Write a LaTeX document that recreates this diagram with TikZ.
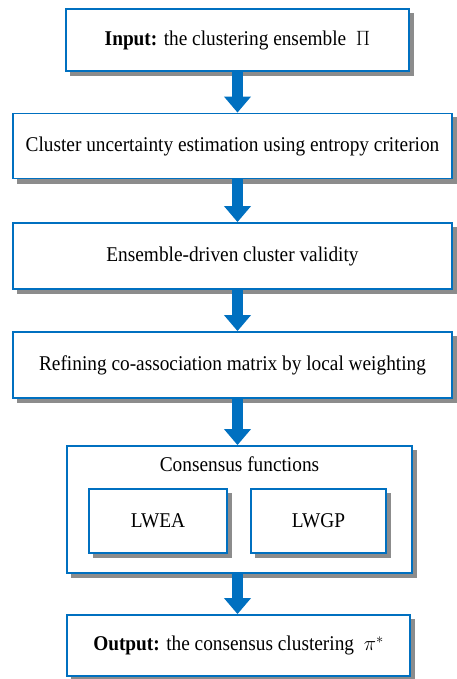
\documentclass[tikz,border=0pt]{standalone}
\usepackage{fontspec}
\setmainfont{Liberation Serif}[FakeStretch=0.92]
\usepackage{tikz}
\usetikzlibrary{arrows.meta}

\definecolor{flowblue}{RGB}{0,112,192}
\pgfdeclarelayer{shadowback}
\pgfdeclarelayer{frame}
\pgfdeclarelayer{shadowfront}
\pgfsetlayers{shadowback,frame,shadowfront,main}

\begin{document}
\begin{tikzpicture}[x=1pt, y=-1pt,
    box/.style={draw=flowblue, line width=1.8pt, fill=white, inner sep=0pt,
        font=\fontsize{21}{24}\selectfont},
    boxshadow/.style={fill=black!45},
    fatarrow/.style={draw=flowblue, line width=11pt,
        -{Triangle[width=26pt, length=16pt]}}]
    \useasboundingbox (0,0) rectangle (456,679);

    % Nodes {in, unc, valid, refine, cons, lwea, lwgp, out}
    \node [box, minimum width=343pt, minimum height=62pt]  (in)     at (237.5,40)  {\textbf{Input:} the clustering ensemble \ $\Pi$};
    \node [box, minimum width=439pt, minimum height=65pt]  (unc)    at (232.5,146) {Cluster uncertainty estimation using entropy criterion};
    \node [box, minimum width=439pt, minimum height=66pt]  (valid)  at (232.5,256) {Ensemble-driven cluster validity};
    \node [box, minimum width=439pt, minimum height=66pt]  (refine) at (232.5,365) {Refining co-association matrix by local weighting};
    \begin{pgfonlayer}{frame}
    \node [box, minimum width=345pt, minimum height=127pt] (cons)   at (239.5,509.5) {};
    \end{pgfonlayer}
    \node [font=\fontsize{21}{24}\selectfont]             (title)  at (239.5,464)   {Consensus functions};
    \node [box, minimum width=138pt, minimum height=64pt]  (lwea)   at (158,521)   {LWEA};
    \node [box, minimum width=135pt, minimum height=64pt]  (lwgp)   at (318.5,521) {LWGP};
    \node [box, minimum width=343pt, minimum height=61pt]  (out)    at (238.5,645.5) {\textbf{Output:} the consensus clustering \ $\pi^*$};

    % Shadows
    \begin{pgfonlayer}{shadowback}
    \fill [boxshadow] ([shift={(4.5,4.5)}]cons.north west) rectangle ([shift={(4.5,4.5)}]cons.south east);
    \end{pgfonlayer}
    \begin{pgfonlayer}{shadowfront}
    \fill [boxshadow] ([shift={(4.5,4.5)}]in.north west) rectangle ([shift={(4.5,4.5)}]in.south east);
    \fill [boxshadow] ([shift={(4.5,4.5)}]unc.north west) rectangle ([shift={(4.5,4.5)}]unc.south east);
    \fill [boxshadow] ([shift={(4.5,4.5)}]valid.north west) rectangle ([shift={(4.5,4.5)}]valid.south east);
    \fill [boxshadow] ([shift={(4.5,4.5)}]refine.north west) rectangle ([shift={(4.5,4.5)}]refine.south east);
    \fill [boxshadow] ([shift={(4.5,4.5)}]lwea.north west) rectangle ([shift={(4.5,4.5)}]lwea.south east);
    \fill [boxshadow] ([shift={(4.5,4.5)}]lwgp.north west) rectangle ([shift={(4.5,4.5)}]lwgp.south east);
    \fill [boxshadow] ([shift={(4.5,4.5)}]out.north west) rectangle ([shift={(4.5,4.5)}]out.south east);
    \end{pgfonlayer}

    % Paths
    \path [fatarrow] (in.south)                  -- (in.south |- unc.north);
    \path [fatarrow] (in.south |- unc.south)     -- (in.south |- valid.north);
    \path [fatarrow] (in.south |- valid.south)   -- (in.south |- refine.north);
    \path [fatarrow] (in.south |- refine.south)  -- (in.south |- cons.north);
    \path [fatarrow] (in.south |- cons.south)    -- (in.south |- out.north);

\end{tikzpicture}
\end{document}
